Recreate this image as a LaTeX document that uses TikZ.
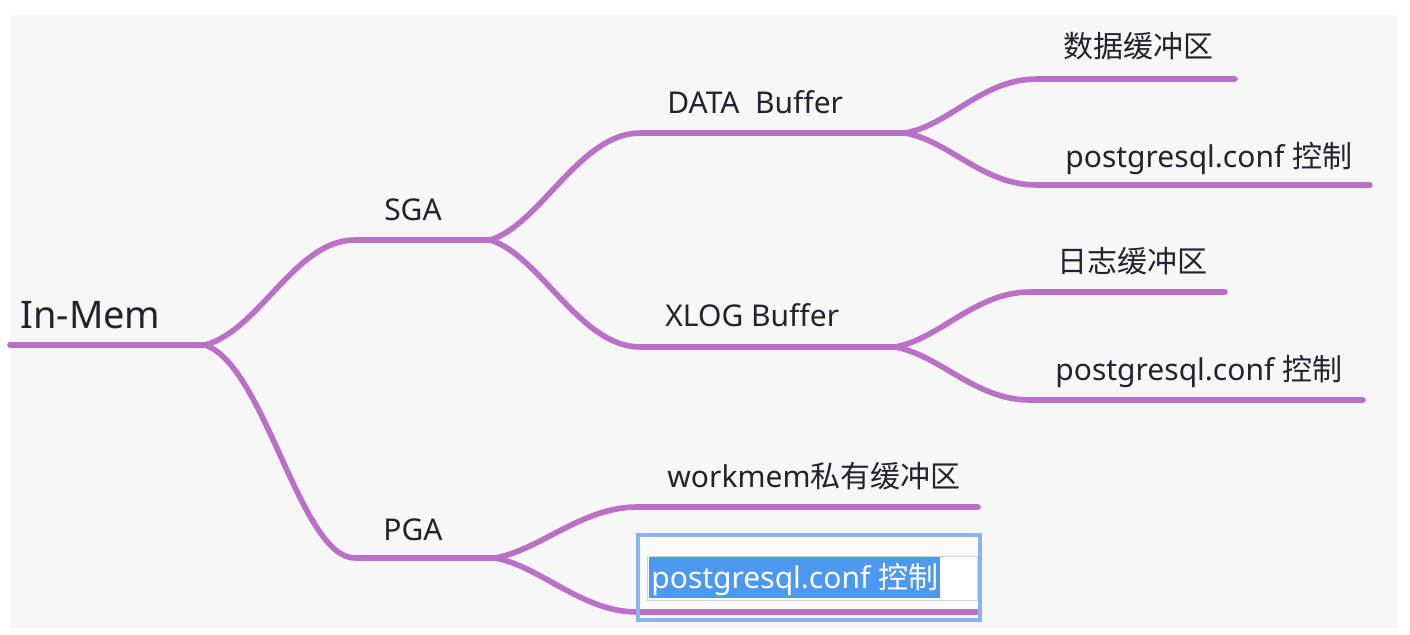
\documentclass[tikz,border=0pt]{standalone}
\usepackage{fontspec}
\setmainfont{Noto Sans}
\newfontfamily\cjk{Noto Sans CJK SC}
\definecolor{mapline}{RGB}{186,112,198}
\definecolor{ink}{RGB}{35,35,45}
\definecolor{panel}{RGB}{247,247,247}
\definecolor{selblue}{RGB}{77,152,240}
\definecolor{editframe}{RGB}{135,180,240}
\def\panelbox{(10,15) rectangle (1398,628)}
\def\editbox{(638,535) rectangle (980,620)}
\def\editfield{(647,556) rectangle (977,600)}

\begin{document}
\begin{tikzpicture}[x=0.5pt, y=-0.5pt,
	limb/.style={draw=mapline, line width=2.8pt, line cap=round},
	label/.style={text=ink, font=\fontsize{15}{18}\selectfont, anchor=base west, inner sep=0pt}]
	\useasboundingbox (0,0) rectangle (1410,634);
	\fill[white] (0,0) rectangle (1410,634);
	\fill[panel] \panelbox;
	\fill[white!55!panel] \editbox;
	\filldraw[fill=white, draw=black!18, line width=0.4pt] \editfield;
	% forks and line ends
	\coordinate (start) at (10,345);
	\coordinate (rootfork) at (205,345);
	\coordinate (sgain) at (355,240);
	\coordinate (sgafork) at (490,240);
	\coordinate (pgain) at (355,558);
	\coordinate (pgafork) at (495,558);
	\coordinate (datain) at (640,133);
	\coordinate (datafork) at (905,133);
	\coordinate (xlogin) at (640,347);
	\coordinate (xlogfork) at (895,347);
	\coordinate (dbufin) at (1037,79);
	\coordinate (dbufend) at (1235,79);
	\coordinate (dconfin) at (1037,185);
	\coordinate (dconfend) at (1370,185);
	\coordinate (lbufin) at (1030,292);
	\coordinate (lbufend) at (1225,292);
	\coordinate (lconfin) at (1030,400);
	\coordinate (lconfend) at (1363,400);
	\coordinate (workin) at (637,507);
	\coordinate (workend) at (978,507);
	\coordinate (pconfin) at (637,612);
	\coordinate (pconfend) at (977,612);
	% branches
	\draw[limb] (start) -- (rootfork);
	\draw[limb] (rootfork) .. controls +(55,-15) and +(-60,0) .. (sgain) -- (sgafork);
	\draw[limb] (rootfork) .. controls +(60,20) and +(-55,0) .. (pgain) -- (pgafork);
	\draw[limb] (sgafork) .. controls +(50,-15) and +(-60,0) .. (datain) -- (datafork);
	\draw[limb] (sgafork) .. controls +(50,15) and +(-60,0) .. (xlogin) -- (xlogfork);
	\draw[limb] (datafork) .. controls +(45,-8) and +(-55,0) .. (dbufin) -- (dbufend);
	\draw[limb] (datafork) .. controls +(45,8) and +(-55,0) .. (dconfin) -- (dconfend);
	\draw[limb] (xlogfork) .. controls +(45,-8) and +(-55,0) .. (lbufin) -- (lbufend);
	\draw[limb] (xlogfork) .. controls +(45,8) and +(-55,0) .. (lconfin) -- (lconfend);
	\draw[limb] (pgafork) .. controls +(45,-8) and +(-55,0) .. (workin) -- (workend);
	\draw[limb] (pgafork) .. controls +(45,8) and +(-55,0) .. (pconfin) -- (pconfend);
	\draw[editframe, line width=1.8pt] \editbox;
	% labels
	\node[label, font=\fontsize{19}{22}\selectfont] (inmem) at (20,328) {In-Mem};
	\node[label, anchor=base] (sga) at (413,220) {SGA};
	\node[label, anchor=base] (pga) at (413,540) {PGA};
	\node[label] (data) at (667,113) {DATA\ \ Buffer};
	\node[label] (xlog) at (665,326) {XLOG Buffer};
	\node[label] (dbuf) at (1063,57) {\cjk 数据缓冲区};
	\node[label] (dconf) at (1065,167) {postgresql.conf {\cjk 控制}};
	\node[label] (lbuf) at (1057,272) {\cjk 日志缓冲区};
	\node[label] (lconf) at (1055,380) {postgresql.conf {\cjk 控制}};
	\node[label] (work) at (667,487) {workmem{\cjk 私有缓冲区}};
	\node[label, text=white, fill=selblue, inner xsep=1pt, text height=15.5pt, text depth=5pt] (pconf) at (649,588) {postgresql.conf {\cjk 控制}};
\end{tikzpicture}
\end{document}
